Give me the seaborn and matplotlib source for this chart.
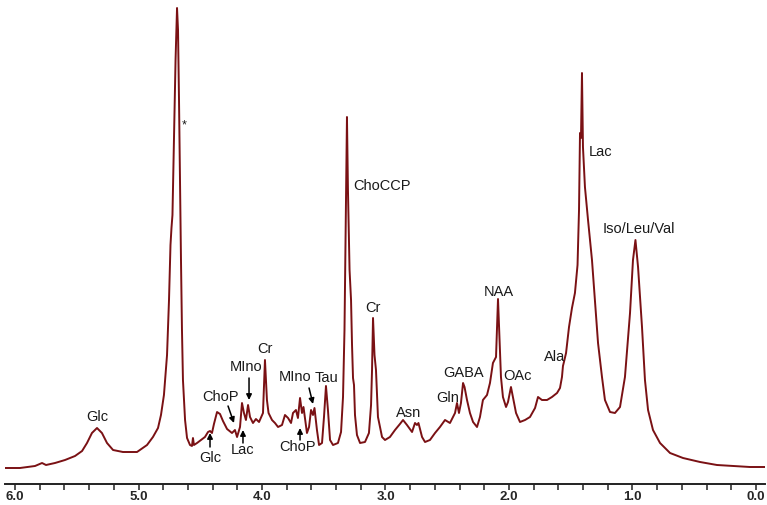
import numpy as np
import pandas as pd
import matplotlib
matplotlib.use("Agg")
import matplotlib.pyplot as plt
import seaborn as sns

# chemical shift (ppm) and intensity
ppm = [6.097, 5.960, 5.838, 5.781, 5.749, 5.676, 5.595, 5.514, 5.457, 5.417,
       5.377, 5.336, 5.296, 5.255, 5.206, 5.126, 5.012, 4.931, 4.883, 4.842,
       4.818, 4.794, 4.769, 4.753, 4.741, 4.733, 4.725, 4.713, 4.700, 4.688,
       4.680, 4.672, 4.664, 4.656, 4.648, 4.640, 4.623, 4.607, 4.583, 4.567,
       4.559, 4.551, 4.526, 4.494, 4.462, 4.437, 4.421, 4.405, 4.389, 4.364,
       4.340, 4.316, 4.283, 4.243, 4.219, 4.202, 4.178, 4.162, 4.146, 4.130,
       4.113, 4.097, 4.073, 4.049, 4.024, 3.992, 3.976, 3.960, 3.947, 3.919,
       3.895, 3.870, 3.838, 3.814, 3.789, 3.765, 3.749, 3.725, 3.709, 3.692,
       3.676, 3.664, 3.652, 3.636, 3.619, 3.603, 3.587, 3.575, 3.555, 3.538,
       3.514, 3.498, 3.482, 3.466, 3.449, 3.425, 3.385, 3.360, 3.344, 3.332,
       3.320, 3.312, 3.304, 3.291, 3.279, 3.271, 3.263, 3.255, 3.247, 3.231,
       3.206, 3.166, 3.134, 3.117, 3.109, 3.101, 3.089, 3.077, 3.061, 3.028,
       3.004, 2.964, 2.923, 2.883, 2.858, 2.826, 2.785, 2.761, 2.745, 2.733,
       2.704, 2.680, 2.640, 2.599, 2.559, 2.518, 2.478, 2.437, 2.421, 2.405,
       2.389, 2.372, 2.360, 2.340, 2.316, 2.291, 2.259, 2.235, 2.211, 2.178,
       2.154, 2.130, 2.105, 2.089, 2.077, 2.065, 2.049, 2.024, 2.008, 1.984,
       1.968, 1.943, 1.911, 1.870, 1.830, 1.789, 1.765, 1.733, 1.692, 1.652,
       1.611, 1.587, 1.571, 1.563, 1.555, 1.538, 1.514, 1.490, 1.466, 1.445,
       1.433, 1.425, 1.417, 1.409, 1.401, 1.385, 1.360, 1.328, 1.304, 1.279,
       1.247, 1.223, 1.182, 1.142, 1.101, 1.061, 1.020, 0.996, 0.976, 0.955,
       0.923, 0.899, 0.874, 0.834, 0.777, 0.696, 0.591, 0.453, 0.316, 0.186,
       0.049, -0.073]
intensity = [0, 0, 2, 5, 3, 5, 8, 12, 17, 25,
             35, 40, 35, 25, 18, 16, 16, 23, 31, 40,
             53, 73, 113, 168, 223, 240, 253, 328, 408, 460,
             438, 368, 288, 208, 138, 88, 48, 30, 23, 22,
             30, 23, 25, 28, 31, 36, 37, 35, 44, 56,
             54, 47, 39, 35, 38, 31, 41, 65, 55, 48,
             63, 51, 45, 49, 46, 55, 108, 68, 55, 48,
             45, 41, 43, 53, 50, 45, 55, 58, 50, 70,
             55, 61, 50, 35, 41, 58, 53, 60, 38, 23,
             25, 51, 82, 58, 28, 23, 25, 36, 71, 138,
             268, 351, 278, 198, 168, 123, 90, 83, 53, 33,
             25, 26, 35, 63, 98, 150, 113, 98, 51, 31,
             28, 31, 38, 44, 48, 43, 36, 45, 43, 45,
             31, 26, 28, 35, 41, 48, 45, 55, 65, 55,
             65, 85, 81, 68, 55, 46, 41, 51, 68, 73,
             85, 105, 111, 169, 131, 91, 71, 61, 66, 81,
             71, 55, 46, 48, 51, 60, 71, 68, 68, 71,
             75, 80, 91, 102, 106, 115, 141, 160, 175, 203,
             258, 335, 330, 395, 321, 281, 248, 208, 168, 125,
             91, 68, 56, 55, 61, 91, 155, 208, 228, 201,
             141, 88, 58, 38, 25, 15, 10, 6, 3, 2,
             1, 1]

# peak labels: text, ppm, intensity
labels = ["Glc", "*", "Glc", "ChoP", "MIno", "Lac", "Cr", "MIno", "Tau", "ChoP",
          "ChoCCP", "Cr", "Asn", "Gln", "GABA", "NAA", "OAc", "Ala", "Lac",
          "Iso/Leu/Val"]
label_ppm = [5.336, 4.632, 4.421, 4.340, 4.130, 4.154, 3.976, 3.733, 3.474, 3.709,
             3.028, 3.101, 2.810, 2.494, 2.364, 2.081, 1.935, 1.628, 1.255, 0.947]
label_int = [51, 343, 10, 71, 101, 18, 119, 91, 90, 21,
             282, 160, 55, 70, 95, 176, 92, 111, 316, 239]

# arrows: tail (ppm, int) -> tip (ppm, int)
arrow_tail_ppm = [4.421, 4.275, 4.105, 4.154, 3.619, 3.692]
arrow_tail_int = [21, 62, 90, 25, 80, 28]
arrow_tip_ppm = [4.421, 4.227, 4.105, 4.154, 3.587, 3.692]
arrow_tip_int = [35, 45, 68, 38, 64, 40]

df = pd.DataFrame({"ppm": ppm, "intensity": intensity})

sns.set_style("ticks")
plt.rcParams["font.family"] = ["Liberation Sans", "DejaVu Sans"]

fig = plt.figure(figsize=(7.67, 5.05), dpi=100)
ax = fig.add_axes([5 / 767, 21 / 505, 760 / 767, 479 / 505])

sns.lineplot(data=df, x="ppm", y="intensity", sort=False, estimator=None,
             color="#7a1114", linewidth=1.4, ax=ax)

for t, x, y in zip(labels, label_ppm, label_int):
    ax.text(x, y, t, ha="center", va="center", fontsize=10.5 if t != "*" else 9,
            color="#1a1a1a")

for x0, y0, x1, y1 in zip(arrow_tail_ppm, arrow_tail_int, arrow_tip_ppm, arrow_tip_int):
    ax.annotate("", xy=(x1, y1), xytext=(x0, y0),
                arrowprops=dict(arrowstyle="-|>", color="black", lw=1.1,
                                mutation_scale=8, shrinkA=0, shrinkB=0))

ax.set_xlim(6.081, -0.073)
ax.set_ylim(-16, 463)
ax.set_xticks(np.arange(0, 6.01, 1.0))
ax.set_xticklabels([f"{v:.1f}" for v in np.arange(0, 6.01, 1.0)],
                   fontweight="bold", fontsize=9.5)
ax.set_xticks(np.arange(0, 6.01, 0.2), minor=True)
ax.tick_params(axis="x", which="both", direction="out", length=4, width=1.1,
               color="#222222", pad=1)
ax.set_yticks([])
ax.set_xlabel("")
ax.set_ylabel("")
sns.despine(ax=ax, left=True, top=True, right=True)
ax.spines["bottom"].set_linewidth(1.4)
ax.spines["bottom"].set_color("#222222")

fig.savefig("out.png", dpi=100)
